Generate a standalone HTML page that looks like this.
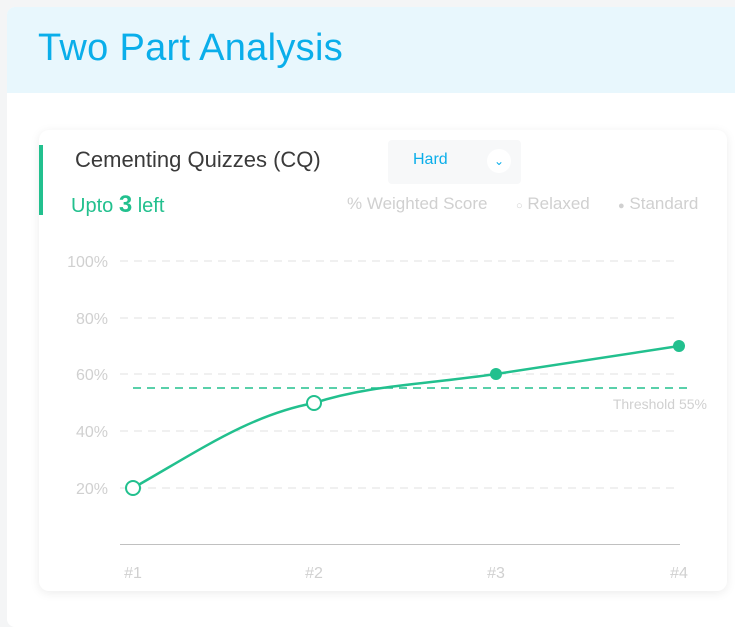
<!DOCTYPE html>
<html><head><style>
body{margin:0;width:735px;height:615px;background:#f4f5f6;font-family:"Liberation Sans",sans-serif;overflow:hidden;position:relative}
.outer{position:absolute;left:7px;top:7px;width:740px;height:620px;background:#fff;border-radius:8px}
.hdr{position:absolute;left:0;top:0;right:0;height:86px;background:#e8f7fd;border-radius:8px 8px 0 0}
.hdr h1{margin:0;position:absolute;left:31px;top:20px;font-weight:400;font-size:38px;color:#0aaeea;letter-spacing:0.3px}
.card{position:absolute;left:39px;top:130px;width:688px;height:461px;background:#fff;border-radius:10px;box-shadow:0 2px 10px rgba(0,0,0,.08)}
.lg{position:absolute;top:194px;font-size:17px;color:#d0d0d0;white-space:nowrap}
</style></head><body>
<div class="outer"><div class="hdr"><h1>Two Part Analysis</h1></div></div>
<div class="card"></div>
<div style="position:absolute;left:39px;top:145px;width:4px;height:70px;background:#22c08e"></div>
<div style="position:absolute;left:75px;top:147px;font-size:22px;color:#3a3a3a">Cementing Quizzes (CQ)</div>
<div style="position:absolute;left:388px;top:140px;width:133px;height:44px;background:#f7f8f9;border-radius:4px"></div>
<div style="position:absolute;left:413px;top:151px;font-size:16px;color:#0aaeea">Hard</div>
<div style="position:absolute;left:487px;top:149px;width:24px;height:24px;border-radius:50%;background:#fff;color:#0aaeea;font-size:12px;text-align:center;line-height:24px">&#8964;</div>
<div style="position:absolute;left:71px;top:191px;font-size:20px;color:#22c08e">Upto <b style="font-size:24px">3</b> left</div>
<div class="lg" style="left:347px">% Weighted Score</div>
<div class="lg" style="left:516px"><span style="font-size:11px">&#9675;</span> Relaxed</div>
<div class="lg" style="left:618px"><span style="font-size:11px">&#9679;</span> Standard</div>
<svg style="position:absolute;left:0;top:0" width="735" height="615" font-family="Liberation Sans" font-size="16" fill="#d0d0d0">
<g stroke="#e2e2e2" stroke-dasharray="8,6" stroke-width="1">
<line x1="120" y1="261" x2="680" y2="261"/><line x1="120" y1="318" x2="680" y2="318"/><line x1="120" y1="374" x2="680" y2="374"/><line x1="120" y1="431" x2="680" y2="431"/><line x1="120" y1="488" x2="680" y2="488"/></g>
<line x1="120" y1="544.5" x2="680" y2="544.5" stroke="#c0c0c0"/>
<g text-anchor="end"><text x="108" y="267">100%</text><text x="108" y="324">80%</text><text x="108" y="380">60%</text><text x="108" y="437">40%</text><text x="108" y="494">20%</text></g>
<g text-anchor="middle"><text x="133" y="578">#1</text><text x="314" y="578">#2</text><text x="496" y="578">#3</text><text x="679" y="578">#4</text></g>
<line x1="133" y1="388" x2="690" y2="388" stroke="#22c08e" stroke-dasharray="8,6" stroke-width="1.5"/>
<text x="707" y="409" text-anchor="end" font-size="14">Threshold 55%</text>
<path d="M133,488 C200,450 250,415 314,403 C370,385 420,385 496,374 L679,346" fill="none" stroke="#22c08e" stroke-width="2.5"/>
<circle cx="133" cy="488" r="7" fill="#fff" stroke="#22c08e" stroke-width="2"/>
<circle cx="314" cy="403" r="7" fill="#fff" stroke="#22c08e" stroke-width="2"/>
<circle cx="496" cy="374" r="6" fill="#22c08e"/>
<circle cx="679" cy="346" r="6" fill="#22c08e"/>
</svg>
</body></html>
